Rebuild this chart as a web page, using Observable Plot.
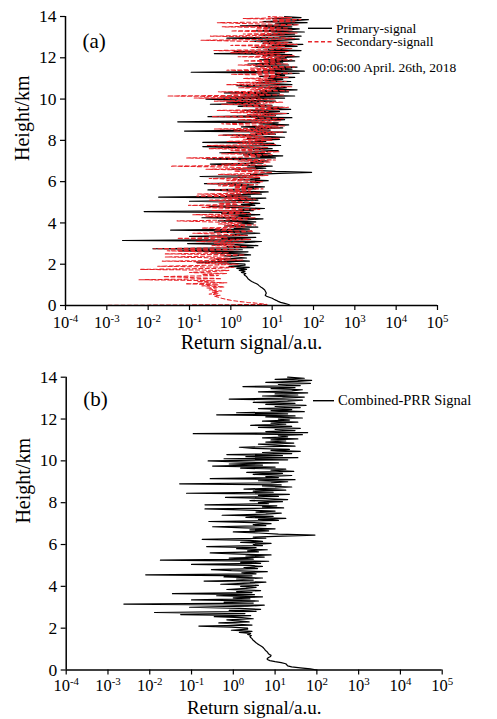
<!DOCTYPE html>
<html>
<head>
<meta charset="utf-8">
<script src="https://cdn.jsdelivr.net/npm/d3@7"></script>
<script src="https://cdn.jsdelivr.net/npm/@observablehq/plot@0.6"></script>
<style>
  html, body { margin: 0; padding: 0; background: #ffffff; }
  #charts svg { display: block; }
</style>
</head>
<body>
<div id="charts"></div>
<script>
// ---- data (return signal in a.u., range bins every 0.05 km from 0 km) ----
const binStartKm = 0;
const binStepKm = 0.05;

const xTickValues = [1e-4, 1e-3, 1e-2, 1e-1, 1e0, 1e1, 1e2, 1e3, 1e4, 1e5];
const yTickValues = [0, 2, 4, 6, 8, 10, 12, 14];

// 0.00 – 1.75 km
const primaryLow = [27, 25, 20, 16, 14, 12.5, 11, 10, 8.5, 7.3, 6.8, 7.0, 7.2, 7.0, 6.8, 6.6, 6.2, 5.8, 5.3, 4.9,
  4.6, 4.2, 3.7, 3.3, 3.0, 2.8, 2.6, 2.5, 2.4, 2.2, 2.1, 2.3, 1.8, 2.2, 1.6, 2.4];
// 1.80 – 14.00 km
const primaryHigh = [1.4, 2.8, 0.9, 2.2,
  2.2, 0.9, 0.15, 2.8, 1.1, 0.45, 2.4, 1.3, 0.7, 3.0, 1.6, 0.35, 2.6, 0.055, 1.9, 0.013, 3.5, 0.8, 4.5, 1.4,
  0.09, 2.2, 5.5, 0.0024, 3.0, 0.6, 4.0, 0.1, 2.5, 1.0, 5.0, 0.4, 3.2, 0.035, 2.8, 1.2, 4.5, 0.7, 2.0, 3.5,
  1.5, 4.0, 0.5, 2.5, 6.0, 0.2, 3.0, 1.2, 5.0, 0.6, 2.8, 0.008, 3.5, 1.6, 6.5, 0.9, 0.3, 3.8, 1.8, 5.0,
  2.5, 0.1, 4.5, 1.5, 7.0, 0.018, 3.0, 0.8, 5.5, 2.0, 8.0, 1.0, 0.28, 4.0, 2.2, 6.5, 1.2, 3.5, 0.23, 5.0,
  3.0, 8.0, 1.5, 5.0, 2.5, 0.18, 6.0, 3.0, 15, 90, 12, 4.0, 1.0, 7.0, 2.5, 10, 1.8, 0.32, 6.0, 3.0,
  8.0, 3.0, 0.26, 12, 4.0, 18, 2.0, 9.0, 0.54, 6.0, 14, 3.5, 10, 1.5, 0.21, 16, 5.0, 11, 0.21, 7.0,
  4.0, 15, 2.5, 20, 6.0, 0.65, 12, 4.0, 22, 0.076, 9.0, 3.0, 18, 1.8, 10, 25, 5.0, 14, 0.052, 8.0,
  20, 4.0, 30, 0.28, 12, 6.0, 25, 3.0, 15, 2.1, 28, 8.0, 18, 1.5, 10, 0.32, 5.0, 0.8, 12, 1.2,
  0.25, 20, 0.6, 35, 2.0, 15, 0.7, 25, 5.0, 40, 8.0, 22, 3.0, 1.4, 30, 10, 4.0, 28, 6.0, 18,
  8.0, 35, 5.0, 20, 12, 45, 0.11, 60, 6.0, 30, 10, 40, 4.0, 25, 2.6, 18, 8.0, 35, 5.0, 22,
  12, 45, 6.0, 30, 0.4, 20, 1.2, 50, 8.0, 25, 4.0, 40, 10, 55, 6.0, 30, 3.0, 20, 45, 0.8,
  15, 50, 5.0, 35, 10, 60, 4.0, 25, 45, 8.0, 30, 1.7, 40, 12, 70, 6.0, 35, 75, 10, 50,
  20];

// 0.00 – 1.75 km
const secondaryLow = [0.00036, 7.5, 5.0, 2.5, 1.5, 1.0, 0.75, 0.6, 0.5, 0.4, 0.55, 0.3, 0.5, 0.35, 0.6, 0.3, 0.45, 0.25, 0.7, 0.2,
  0.5, 0.08, 0.8, 0.15, 0.4, 0.006, 0.6, 0.12, 0.023, 0.5, 0.2, 0.8, 0.1, 0.4, 0.9, 0.0066];
// 1.80 – 14.00 km
const secondaryHigh = [0.5, 1.2, 0.017, 0.3,
  1.5, 0.15, 0.8, 0.022, 2.0, 0.3, 1.0, 0.026, 0.6, 2.2, 0.026, 0.9, 0.2, 0.029, 1.5, 0.0135, 0.7, 2.5, 0.35, 1.2,
  0.4, 2.0, 0.15, 1.0, 3.0, 0.05, 0.8, 0.3, 2.5, 0.6, 0.12, 1.5, 3.5, 0.4, 1.0, 0.2, 2.2, 0.7, 4.0, 0.5,
  1.8, 0.3, 0.05, 2.5, 0.8, 4.0, 0.25, 1.5, 0.12, 3.0, 0.6, 2.0, 0.35, 5.0, 1.0, 0.2, 3.0, 0.095, 1.5, 0.5,
  3.5, 1.0, 0.3, 4.0, 0.7, 2.5, 0.15, 1.8, 0.155, 5.0, 0.8, 3.0, 0.4, 6.0, 1.2, 2.5, 0.5, 4.5, 0.27, 2.0,
  6.0, 0.8, 3.0, 0.3, 5.0, 1.5, 8.0, 0.5, 3.5, 10, 1.2, 6.0, 0.25, 4.0, 1.0, 0.035, 7.0, 0.6, 3.0, 9.0,
  1.5, 12, 0.5, 0.085, 5.0, 2.0, 10, 0.6, 4.0, 15, 1.0, 6.0, 0.3, 8.0, 2.5, 0.27, 12, 1.5, 6.0, 0.8,
  10, 2.0, 15, 1.0, 6.0, 0.5, 12, 3.0, 18, 1.2, 8.0, 0.4, 15, 4.0, 20, 2.0, 0.6, 10, 3.0, 16,
  1.5, 20, 5.0, 0.35, 12, 2.5, 22, 1.0, 8.0, 0.47, 15, 4.0, 25, 2.0, 10, 0.6, 6.0, 18, 0.4, 3.0,
  12, 0.13, 5.0, 0.029, 20, 1.0, 8.0, 0.5, 25, 3.0, 12, 1.5, 30, 5.0, 0.8, 15, 1.4, 22, 4.0, 10,
  2.0, 25, 6.0, 15, 1.0, 30, 4.0, 12, 0.8, 20, 3.0, 35, 8.0, 1.5, 25, 5.0, 15, 2.0, 30, 6.0,
  20, 1.5, 35, 4.0, 15, 1.0, 25, 0.39, 10, 30, 3.0, 20, 1.0, 40, 6.0, 25, 2.0, 0.19, 15, 35,
  5.0, 0.32, 20, 2.0, 40, 8.0, 1.0, 30, 4.0, 25, 0.62, 15, 45, 3.0, 0.47, 35, 10, 50, 2.0, 30,
  8.0];

// combined PRR signal, 0.00 – 1.75 km (above this it follows the primary channel)
const combinedLow = [100, 70, 40, 25, 20, 19, 18, 14, 10, 7.5, 6.5, 6.5, 7.0, 7.8, 8.0, 7.2, 6.8, 6.6, 6.2, 5.8,
  5.6, 5.3, 5.0, 4.6, 4.2, 3.8, 3.5, 3.3, 3.1, 2.9, 2.8, 2.6, 2.5, 2.7, 2.2, 2.6];

// ---- build tables ----
const toRows = (vals) => vals.map((v, i) => ({h: +(binStartKm + i * binStepKm).toFixed(2), v}));
const primary = toRows([...primaryLow, ...primaryHigh]);
const secondary = toRows([...secondaryLow, ...secondaryHigh]);
const combined = toRows([...combinedLow, ...primaryHigh]);

const FONT = "'Liberation Serif', 'Times New Roman', serif";
const RED = "#e8262b";

function supTicks(svg) {
  d3.select(svg).selectAll('g[aria-label="x-axis tick label"] text').each(function () {
    const e = this.textContent;
    const t = d3.select(this);
    t.text("10");
    t.append("tspan").attr("dy", "-0.55em").attr("font-size", "0.66em").text(e);
  });
}

function panel(opts) {
  const {mt, mb, ml, mr, height, marks, tag} = opts;
  const svg = Plot.plot({
    width: 497,
    height,
    marginTop: mt, marginBottom: mb, marginLeft: ml, marginRight: mr,
    style: {fontFamily: FONT, background: "#ffffff", color: "#000"},
    x: {type: "log", domain: [1e-4, 1e5]},
    y: {domain: [0, 14]},
    marks: [
      Plot.axisX({ticks: xTickValues, tickFormat: d => String(Math.round(Math.log10(d))), tickSize: 5, tickPadding: opts.xPad,
        fontSize: 16.5, label: null, strokeWidth: 1.2}),
      Plot.axisY({ticks: yTickValues, tickSize: 5, tickPadding: 4, fontSize: 17.5, label: null, strokeWidth: 1.2}),
      ...marks,
      Plot.ruleY([0], {strokeWidth: 1.5}),
      Plot.ruleX([1e-4], {strokeWidth: 1.5}),
      Plot.text(["Return signal/a.u."], {frameAnchor: "bottom", dy: opts.titleDy, fontSize: opts.titleSize}),
      Plot.text(["Height/km"], {frameAnchor: "left", rotate: -90, dx: -43, fontSize: 20}),
      Plot.text([tag], {frameAnchor: "top-left", textAnchor: "start", dx: 17, dy: opts.tagDy, fontSize: 21})
    ]
  });
  supTicks(svg);
  return svg;
}

function legendItem(svg, x1, x2, y, text, fs, dashed) {
  const s = d3.select(svg);
  s.append("line").attr("x1", x1).attr("x2", x2).attr("y1", y).attr("y2", y)
    .attr("stroke", dashed ? RED : "#000").attr("stroke-width", 1.4)
    .attr("stroke-dasharray", dashed ? "4,2.5" : null);
  s.append("text").attr("x", x2 + 4).attr("y", y).attr("dy", "0.32em")
    .attr("text-anchor", "start")
    .attr("font-family", FONT).attr("font-size", fs).attr("fill", "#000").text(text);
}

const container = document.getElementById("charts");

// panel (a)
const svgA = panel({
  mt: 16, mb: 55, ml: 65, mr: 60, height: 360, tag: "(a)", titleDy: 43.5, titleSize: 20, xPad: 6, tagDy: 17,
  marks: [
    Plot.line(primary, {x: "v", y: "h", stroke: "#000", strokeWidth: 1.2}),
    Plot.line(secondary, {x: "v", y: "h", stroke: RED, strokeWidth: 1.05, strokeDasharray: "4,2.5"}),
    Plot.text(["00:06:00 April. 26th, 2018"], {frameAnchor: "top-left", textAnchor: "start", dx: 247, dy: 46, fontSize: 13.5})
  ]
});
legendItem(svgA, 308, 332, 28.3, "Primary-signal", 13.5, false);
legendItem(svgA, 308, 332, 41.8, "Secondary-signall", 13.5, true);
container.appendChild(svgA);

// panel (b)
const svgB = panel({
  mt: 16.7, mb: 49.5, ml: 65.7, mr: 55.3, height: 359, tag: "(b)", titleDy: 43.5, titleSize: 19, xPad: 4, tagDy: 14,
  marks: [
    Plot.line(combined, {x: "v", y: "h", stroke: "#000", strokeWidth: 1.2})
  ]
});
legendItem(svgB, 313, 334, 40.7, "Combined-PRR Signal", 14.5, false);
container.appendChild(svgB);
</script>
</body>
</html>
